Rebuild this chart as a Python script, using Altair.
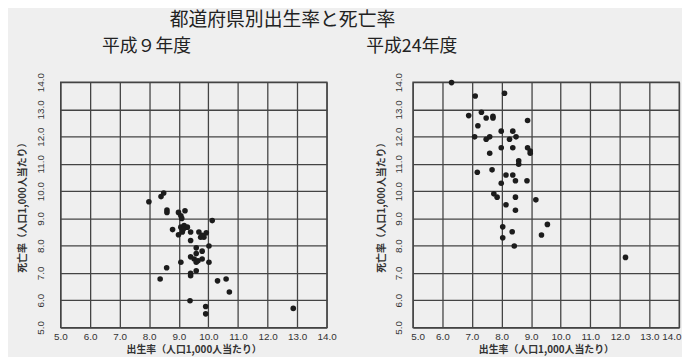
import altair as alt
import pandas as pd

# 平成9年度: birth rate (x) and death rate (y), per 1,000 population
h9_birth = [7.99, 8.40, 8.49, 8.60, 8.60, 8.99, 9.07, 9.21, 9.10, 10.13,
            8.79, 9.07, 9.18, 9.29, 8.99, 9.12, 9.40, 9.40, 9.68, 9.74,
            9.85, 9.93, 9.79, 10.02, 9.59, 9.59, 9.79, 9.40, 9.52, 9.59,
            9.79, 9.07, 10.02, 8.59, 9.40, 9.40, 9.59, 8.37, 10.31, 10.60,
            10.71, 9.38, 9.91, 9.91, 12.87, 9.65, 9.15]
h9_death = [9.61, 9.80, 9.93, 9.31, 9.22, 9.22, 9.10, 9.28, 9.00, 8.92,
            8.59, 8.68, 8.74, 8.68, 8.40, 8.50, 8.50, 8.19, 8.50, 8.31,
            8.31, 8.47, 8.38, 7.99, 7.92, 7.71, 7.80, 7.59, 7.51, 7.39,
            7.51, 7.39, 7.39, 7.19, 6.99, 6.90, 7.08, 6.78, 6.71, 6.78,
            6.30, 5.98, 5.77, 5.50, 5.70, 7.45, 8.60]

# 平成24年度
h24_birth = [6.31, 7.11, 8.10, 6.89, 7.32, 7.48, 7.71, 7.71, 8.88, 7.20,
             7.99, 8.38, 7.09, 7.48, 7.60, 8.27, 8.49, 7.99, 8.38, 8.88,
             8.97, 8.97, 7.60, 8.58, 8.58, 7.18, 7.68, 8.15, 8.38, 8.47,
             7.99, 8.86, 7.74, 7.85, 8.47, 9.16, 8.15, 8.47, 9.55, 8.04,
             8.36, 9.35, 8.04, 8.43, 12.19]
h24_death = [13.98, 13.49, 13.59, 12.77, 12.89, 12.68, 12.74, 12.68, 12.59, 12.40,
             12.20, 12.20, 11.99, 11.90, 11.99, 11.90, 11.99, 11.59, 11.59, 11.59,
             11.47, 11.39, 11.39, 11.11, 10.99, 10.69, 10.78, 10.59, 10.59, 10.38,
             10.29, 10.38, 9.90, 9.78, 9.78, 9.68, 9.50, 9.30, 8.78, 8.69,
             8.51, 8.39, 8.29, 7.99, 7.57]

tick_values = [5.0, 6.0, 7.0, 8.0, 9.0, 10.0, 11.0, 12.0, 13.0, 14.0]

main_title = "都道府県別出生率と死亡率"
panel_titles = ["平成９年度", "平成24年度"]
x_title = "出生率（人口1,000人当たり）"
y_title = "死亡率（人口1,000人当たり）"

FONT = "Noto Sans CJK JP"
NUM_FONT = "Liberation Sans"


def panel(birth, death, title, dx, label_pad, flush):
    df = pd.DataFrame({"birth": birth, "death": death})
    x_axis_kw = dict(labelFlush=True, labelFlushOffset=2) if flush else dict(labelFlush=False)
    return (
        alt.Chart(
            df,
            title=alt.TitleParams(
                title, anchor="start", frame="group", dx=dx, fontSize=18,
                font=FONT, fontWeight="normal", color="#222222", offset=17,
            ),
        )
        .mark_circle(size=32, color="#1c1c1c", opacity=1)
        .encode(
            x=alt.X(
                "birth:Q",
                scale=alt.Scale(domain=[5, 14], nice=False, zero=False),
                axis=alt.Axis(
                    values=tick_values, format=".1f", title=x_title,
                    labelPadding=4, titlePadding=3, labelOverlap=False,
                    **x_axis_kw,
                ),
            ),
            y=alt.Y(
                "death:Q",
                scale=alt.Scale(domain=[5, 14], nice=False, zero=False),
                axis=alt.Axis(
                    values=tick_values, format=".1f", title=y_title,
                    labelAngle=270, labelAlign="center", labelBaseline="bottom",
                    labelPadding=label_pad, titlePadding=8, labelOverlap=False,
                    labelFlush=False,
                ),
            ),
        )
        .properties(width=269, height=248)
    )


left = panel(h9_birth, h9_death, panel_titles[0], 42, 15, False)
right = panel(h24_birth, h24_death, panel_titles[1], -47, 9, True)

chart = (
    alt.hconcat(left, right, spacing=28)
    .properties(
        title=alt.TitleParams(
            main_title, anchor="start", dx=154, fontSize=19, font=FONT,
            fontWeight="normal", color="#222222", offset=7,
        ),
        padding={"left": 9, "top": 1, "right": 0, "bottom": 0},
        background="#efefef",
    )
    .configure_view(stroke="#444444", strokeWidth=1.3)
    .configure_axis(
        grid=True, gridColor="#444444", gridWidth=1.3, gridOpacity=1,
        domain=False, ticks=False,
        labelFont=NUM_FONT, labelFontSize=10, labelColor="#333333",
        titleFont=FONT, titleFontSize=10, titleFontWeight="bold", titleColor="#333333",
    )
)

chart.save("out.html", embed_options={"renderer": "svg", "actions": False})
